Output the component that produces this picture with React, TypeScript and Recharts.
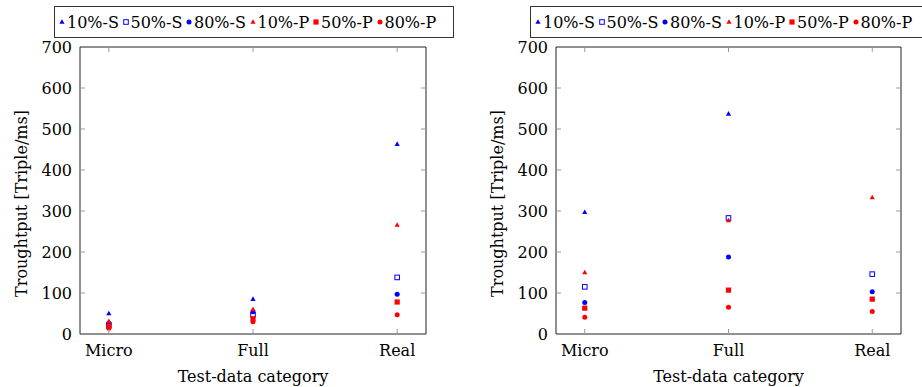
import React from "react";
import { ScatterChart, Scatter, XAxis, YAxis } from "recharts";

const categories = ["Micro", "Full", "Real"];
const yTicks = [0, 100, 200, 300, 400, 500, 600, 700];
const seriesNames = ["10%-S", "50%-S", "80%-S", "10%-P", "50%-P", "80%-P"];

// left panel, values per category (Micro, Full, Real)
const left10S = [50, 85, 463];
const left50S = [22, 47, 138];
const left80S = [26, 54, 97];
const left10P = [31, 60, 266];
const left50P = [19, 37, 78];
const left80P = [14, 30, 47];

// right panel (10%-S on Real is off the chart)
const right10S = [297, 537, null];
const right50S = [115, 283, 146];
const right80S = [77, 188, 103];
const right10P = [150, 277, 333];
const right50P = [63, 107, 85];
const right80P = [41, 65, 55];

const BLUE = "#0000ff";
const RED = "#ff0000";
const FONT = "DejaVu Serif";
const FS = 16;

type Kind = "tri" | "sqOpen" | "sq" | "dot";
const styles: { color: string; kind: Kind }[] = [
  { color: BLUE, kind: "tri" },
  { color: BLUE, kind: "sqOpen" },
  { color: BLUE, kind: "dot" },
  { color: RED, kind: "tri" },
  { color: RED, kind: "sq" },
  { color: RED, kind: "dot" },
];

function Marker({ cx, cy, color, kind }: { cx: number; cy: number; color: string; kind: Kind }) {
  if (kind === "tri") {
    return <polygon points={`${cx},${cy - 2.8} ${cx - 2.6},${cy + 1.8} ${cx + 2.6},${cy + 1.8}`} fill={color} />;
  }
  if (kind === "sqOpen") {
    return <rect x={cx - 2.3} y={cy - 2.3} width={4.6} height={4.6} fill="#fff" stroke={color} strokeWidth={1} />;
  }
  if (kind === "sq") {
    return <rect x={cx - 2.6} y={cy - 2.6} width={5.2} height={5.2} fill={color} />;
  }
  return <circle cx={cx} cy={cy} r={2.5} fill={color} />;
}

const TICK = "#999";

const BottomTick = (p: any) => (
  <g>
    <line x1={p.x} y1={p.y} x2={p.x} y2={p.y - 5} stroke={TICK} />
    <text x={p.x} y={p.y + 22} textAnchor="middle" fontFamily={FONT} fontSize={FS} fill="#000">
      {categories[p.payload.value]}
    </text>
  </g>
);
const TopTick = (p: any) => <line x1={p.x} y1={p.y} x2={p.x} y2={p.y + 5} stroke={TICK} />;
const LeftTick = (p: any) => (
  <g>
    {p.payload.value > 0 && p.payload.value < 700 && (
      <line x1={p.x} y1={p.y} x2={p.x + 5} y2={p.y} stroke={TICK} />
    )}
    <text x={p.x - 8} y={p.y + 6} textAnchor="end" fontFamily={FONT} fontSize={FS} fill="#000">
      {p.payload.value}
    </text>
  </g>
);
const RightTick = (p: any) =>
  p.payload.value > 0 && p.payload.value < 700 ? (
    <line x1={p.x} y1={p.y} x2={p.x - 5} y2={p.y} stroke={TICK} />
  ) : (
    <g />
  );

const YTitle = (props: any) => {
  const vb = props.viewBox;
  const cx = vb.x + 27;
  const cy = vb.y + vb.height / 2 + 13;
  return (
    <text x={cx} y={cy} transform={`rotate(-90 ${cx} ${cy})`} textAnchor="middle" fontFamily={FONT} fontSize={FS} fill="#000">
      Troughtput [Triple/ms]
    </text>
  );
};

const XTitle = (props: any) => {
  const vb = props.viewBox;
  return (
    <text x={vb.x + vb.width / 2} y={382} textAnchor="middle" fontFamily={FONT} fontSize={FS} fill="#000">
      Test-data category
    </text>
  );
};

function LegendBox() {
  return (
    <div
      style={{
        position: "absolute",
        left: 54,
        top: 6,
        width: 396,
        height: 30,
        border: "1px solid #333",
        display: "flex",
        alignItems: "center",
        paddingLeft: 2,
        whiteSpace: "nowrap",
        background: "#fff",
        fontFamily: FONT,
        fontSize: FS,
        zIndex: 2,
      }}
    >
      {seriesNames.map((name, i) => (
        <span key={name} style={{ display: "inline-flex", alignItems: "center", width: 63.5 }}>
          <svg width={10} height={10} style={{ display: "block" }}>
            <Marker cx={5} cy={5} color={styles[i].color} kind={styles[i].kind} />
          </svg>
          <span>{name}</span>
        </span>
      ))}
    </div>
  );
}

function Panel({ width, plotWidth, values }: { width: number; plotWidth: number; values: (number | null)[][] }) {
  return (
    <div style={{ position: "relative", width, height: 387 }}>
      <LegendBox />
      <ScatterChart
        width={width}
        height={387}
        margin={{ top: 46, right: width - 80 - plotWidth - 1, bottom: 52, left: 0 }}
      >
        <XAxis
          xAxisId="bottom"
          type="number"
          dataKey="x"
          domain={[-0.2, 2.2]}
          allowDataOverflow
          ticks={[0, 1, 2]}
          height={1}
          tickSize={0}
          tickMargin={0}
          tickLine={false}
          axisLine={{ stroke: "#222" }}
          tick={<BottomTick />}
          label={<XTitle />}
        />
        <XAxis
          xAxisId="top"
          orientation="top"
          type="number"
          dataKey="x"
          domain={[-0.2, 2.2]}
          allowDataOverflow
          ticks={[0, 1, 2]}
          height={1}
          tickSize={0}
          tickMargin={0}
          tickLine={false}
          axisLine={{ stroke: "#222" }}
          tick={<TopTick />}
        />
        <YAxis
          yAxisId="left"
          type="number"
          dataKey="y"
          domain={[0, 700]}
          allowDataOverflow
          ticks={yTicks}
          width={80}
          tickSize={0}
          tickMargin={0}
          tickLine={false}
          axisLine={{ stroke: "#222" }}
          tick={<LeftTick />}
          label={<YTitle />}
        />
        <YAxis
          yAxisId="right"
          orientation="right"
          type="number"
          dataKey="y"
          domain={[0, 700]}
          allowDataOverflow
          ticks={yTicks}
          width={1}
          tickSize={0}
          tickMargin={0}
          tickLine={false}
          axisLine={{ stroke: "#222" }}
          tick={<RightTick />}
        />
        {values.map((vals, i) => (
          <Scatter
            key={seriesNames[i]}
            name={seriesNames[i]}
            xAxisId="bottom"
            yAxisId="left"
            data={categories
              .map((c, ci) => ({ x: ci, y: vals[ci], cat: c }))
              .filter((d) => d.y !== null)}
            isAnimationActive={false}
            shape={(p: any) => <Marker cx={p.cx} cy={p.cy} color={styles[i].color} kind={styles[i].kind} />}
          />
        ))}
      </ScatterChart>
    </div>
  );
}

export default function App() {
  return (
    <div
      style={{
        position: "absolute",
        left: 0,
        top: 0,
        width: 922,
        height: 387,
        overflow: "hidden",
        background: "#fff",
      }}
    >
      <div style={{ position: "absolute", left: 0, top: 0 }}>
        <Panel width={461} plotWidth={346} values={[left10S, left50S, left80S, left10P, left50P, left80P]} />
      </div>
      <div style={{ position: "absolute", left: 476, top: 0 }}>
        <Panel width={446} plotWidth={345} values={[right10S, right50S, right80S, right10P, right50P, right80P]} />
      </div>
    </div>
  );
}
